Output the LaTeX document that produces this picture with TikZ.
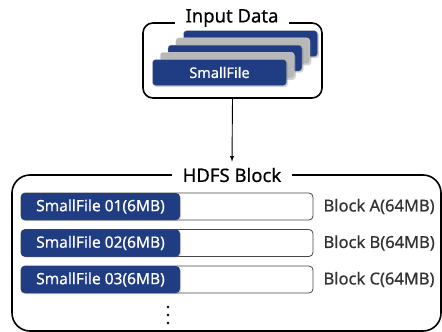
\documentclass[tikz,border=0pt]{standalone}
\usepackage{fontspec}
\setmainfont{Noto Sans}[FakeBold=0.6]
\usetikzlibrary{shadows}
\definecolor{fileblue}{RGB}{32,61,132}
\definecolor{filegray}{RGB}{184,184,184}
\definecolor{barline}{RGB}{70,70,70}

\begin{document}
\begin{tikzpicture}[x=1pt,y=-1pt]
      \tikzstyle{frame}=[draw, line width=1.6pt, rounded corners=10pt];
      \tikzstyle{title}=[fill=white, inner xsep=11pt, inner ysep=1pt,
        font=\fontsize{18.5}{22}\selectfont];
      \tikzstyle{card}=[rectangle, rounded corners=3pt, minimum width=134pt,
        minimum height=26pt, draw=white!70!black, line width=0.4pt,
        drop shadow={opacity=0.35, shadow xshift=1.5pt, shadow yshift=-1.5pt}];
      \tikzstyle{bar}=[rectangle, rounded corners=4pt, minimum height=27pt,
        inner sep=0pt];
      \useasboundingbox (0,0) rectangle (442,332);
      % input data
      \node[frame, minimum width=179pt, minimum height=75pt] (input) at (232.5,60.5) {};
      \node[title] (intitle) at (232,18) {Input Data};
      \foreach \k in {4,...,1} {
        \pgfmathsetmacro{\shade}{mod(\k,2)==0 ? 1 : 0}
        \ifdim\shade pt=1pt
          \node[card, fill=fileblue] (card\k) at (219.5+7.75*\k,72.5-7.2*\k) {};
        \else
          \node[card, fill=filegray, draw=white!85!black] (card\k) at (219.5+7.75*\k,72.5-7.2*\k) {};
        \fi
      }
      \node[card, fill=fileblue, text=white, font=\fontsize{14.5}{17}\selectfont]
        (card0) at (219.5,72.5) {SmallFile};
      % hdfs block
      \draw[line width=1.6pt, rounded corners=18pt] (12,175) rectangle (441,331);
      \node[title] (hdfstitle) at (232,175) {HDFS Block};
      \draw[line width=0.9pt, -latex] (input.south) -- ([yshift=5pt]hdfstitle.north);
      \foreach \i/\b in {1/A,2/B,3/C} {
        \node[bar, draw=barline, line width=0.8pt, fill=white, minimum width=292pt]
          (block\b) at (167,170+36.5*\i) {};
        \node[bar, fill=fileblue, minimum width=159pt, text=white,
          font=\fontsize{15.5}{18}\selectfont,
          drop shadow={opacity=0.3, shadow xshift=1pt, shadow yshift=-1pt}]
          (file\i) at (100.5,170+36.5*\i) {SmallFile 0\i(6MB)\hspace{2pt}};
        \node[anchor=west, inner sep=0pt, font=\fontsize{16.5}{19}\selectfont,
          text=black!80] (label\b) at ([xshift=10pt]block\b.east) {Block \b(64MB)};
      }
      \foreach \d in {307,315,323}
        \fill (168,\d) circle (1.4pt);
    \end{tikzpicture}
\end{document}
